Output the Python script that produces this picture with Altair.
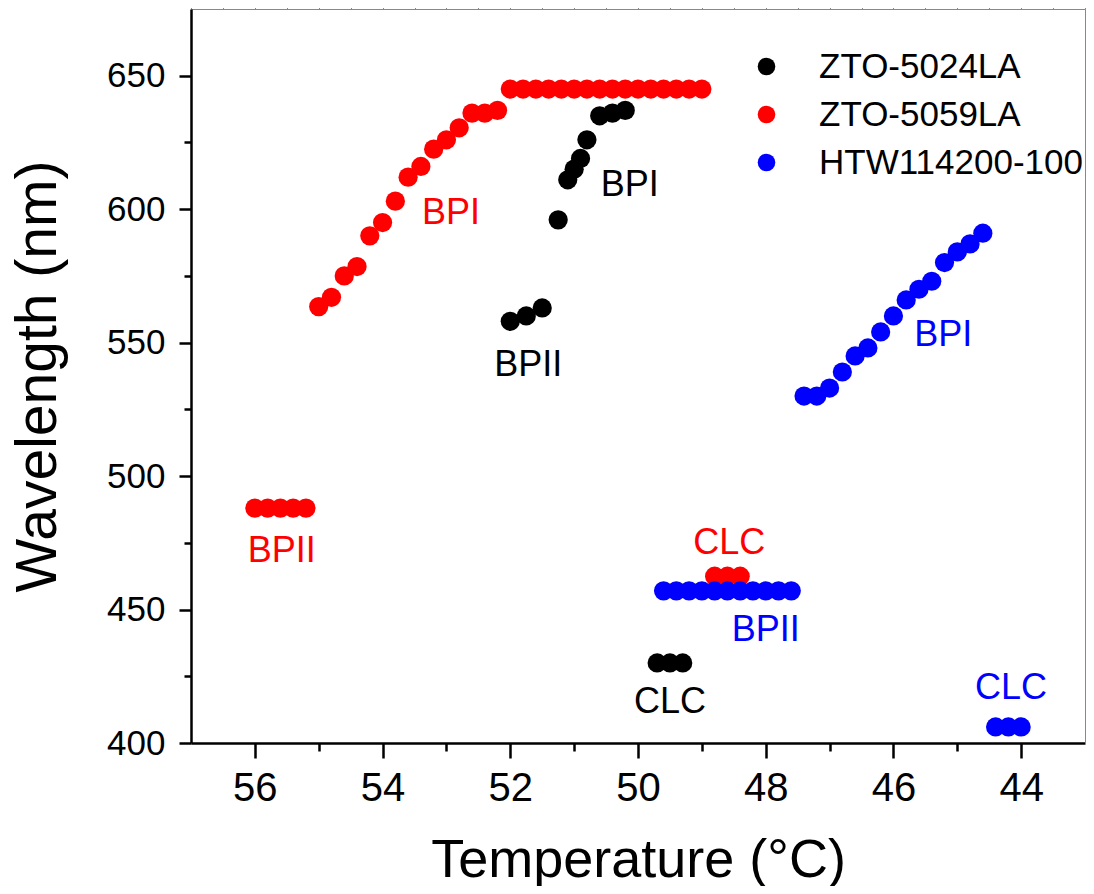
import altair as alt
import pandas as pd

FONT = "Liberation Sans, Arial, Helvetica, sans-serif"

series_names = ["ZTO-5024LA", "ZTO-5059LA", "HTW114200-100"]
series_colors = ["#000000", "#ff0000", "#0000ff"]

# ZTO-5024LA (black)
black_temp = [52.0, 51.75, 51.5, 51.25, 51.1, 51.0, 50.9, 50.8, 50.6, 50.4, 50.2, 49.7, 49.5, 49.3]
black_wl = [558, 560, 563, 596, 611, 615, 619, 626, 635, 636, 637, 430, 430, 430]

# ZTO-5059LA (red)
red_temp = [56.0, 55.8, 55.6, 55.4, 55.2,
            55.0, 54.8, 54.6, 54.4, 54.2, 54.0, 53.8, 53.6, 53.4, 53.2, 53.0, 52.8, 52.6, 52.4, 52.2,
            52.0, 51.8, 51.6, 51.4, 51.2, 51.0, 50.8, 50.6, 50.4, 50.2, 50.0, 49.8, 49.6, 49.4, 49.2, 49.0,
            48.8, 48.6, 48.4]
red_wl = [488, 488, 488, 488, 488,
          563.5, 567, 575, 578.5, 590, 595, 603, 612, 616, 622.5, 626, 630.5, 636, 636, 637,
          645, 645, 645, 645, 645, 645, 645, 645, 645, 645, 645, 645, 645, 645, 645, 645,
          462.5, 462.5, 462.5]

# HTW114200-100 (blue)
blue_temp = [47.4, 47.2, 47.0, 46.8, 46.6, 46.4, 46.2, 46.0, 45.8, 45.6, 45.4, 45.2, 45.0, 44.8, 44.6,
             49.6, 49.4, 49.2, 49.0, 48.8, 48.6, 48.4, 48.2, 48.0, 47.8, 47.6,
             44.4, 44.2, 44.0]
blue_wl = [530, 530, 533, 539, 545, 548, 554, 560, 566, 570, 573, 580, 584, 587, 591,
           457, 457, 457, 457, 457, 457, 457, 457, 457, 457, 457,
           406, 406, 406]

# phase annotations
label_text = ["BPII", "BPI", "CLC", "BPII", "BPI", "CLC", "BPII", "BPI", "CLC"]
label_temp = [51.72, 50.13, 49.5, 55.58, 52.93, 48.57, 48.0, 45.22, 44.16]
label_wl = [541.8, 609.1, 415.3, 472.1, 598.7, 475.0, 442.3, 552.7, 420.5]
label_color = ["#000000", "#000000", "#000000", "#ff0000", "#ff0000", "#ff0000",
               "#0000ff", "#0000ff", "#0000ff"]

x_major = [44, 46, 48, 50, 52, 54, 56]
x_minor = [45, 47, 49, 51, 53, 55]
y_major = [400, 450, 500, 550, 600, 650]
y_minor = [425, 475, 525, 575, 625]

rows = []
for name, temps, wls in [(series_names[0], black_temp, black_wl),
                         (series_names[1], red_temp, red_wl),
                         (series_names[2], blue_temp, blue_wl)]:
    for t, w in zip(temps, wls):
        rows.append({"series": name, "temp": t, "wl": w})
df = pd.DataFrame(rows)

labels_df = pd.DataFrame({"text": label_text, "temp": label_temp, "wl": label_wl, "color": label_color})

x_scale = alt.Scale(domain=[43, 57], reverse=True, nice=False, zero=False)
y_scale = alt.Scale(domain=[400, 675], nice=False, zero=False)

x_axis_major = alt.Axis(values=x_major, format="d", orient="bottom", grid=False,
                        tickSize=15, tickWidth=2.5, tickColor="black",
                        domainWidth=2.5, domainColor="black",
                        labelFont=FONT, labelFontSize=40, labelColor="black", labelPadding=10,
                        labelFlush=False,
                        title="Temperature (°C)", titleFont=FONT, titleFontSize=54,
                        titleFontWeight="normal", titleColor="black",
                        titleBaseline="alphabetic", titleY=133)
y_axis_major = alt.Axis(values=y_major, format="d", orient="left", grid=False,
                        tickSize=12, tickWidth=2.5, tickColor="black",
                        domainWidth=2.5, domainColor="black",
                        labelFont=FONT, labelFontSize=35, labelColor="black", labelPadding=14,
                        labelFlush=False,
                        title="Wavelength (nm)", titleFont=FONT, titleFontSize=57,
                        titleFontWeight="normal", titleColor="black",
                        titleBaseline="alphabetic", titleAngle=270, titleAlign="center",
                        titleX=-136, titleY=367)

x_axis_minor = alt.Axis(values=x_minor, orient="bottom", grid=False, labels=False, title=None,
                        tickSize=8, tickWidth=2.5, tickColor="black", domain=False)
y_axis_minor = alt.Axis(values=y_minor, orient="left", grid=False, labels=False, title=None,
                        tickSize=7, tickWidth=2.5, tickColor="black", domain=False)

points = alt.Chart(df).mark_circle(size=370, opacity=1).encode(
    x=alt.X("temp:Q", scale=x_scale, axis=x_axis_major),
    y=alt.Y("wl:Q", scale=y_scale, axis=y_axis_major),
    color=alt.Color("series:N",
                    scale=alt.Scale(domain=series_names, range=series_colors),
                    sort=series_names,
                    legend=alt.Legend(orient="none", legendX=558, legendY=40, title=None,
                                      labelFont=FONT, labelFontSize=35, labelColor="black",
                                      labelLimit=0,
                                      symbolType="circle", symbolSize=310, symbolStrokeWidth=0,
                                      labelOffset=35, rowPadding=12, padding=0)),
)

minor = alt.Chart(df).mark_point(opacity=0).encode(
    x=alt.X("temp:Q", scale=x_scale, axis=x_axis_minor),
    y=alt.Y("wl:Q", scale=y_scale, axis=y_axis_minor),
)

texts = alt.Chart(labels_df).mark_text(font=FONT, fontSize=36, align="center", baseline="middle").encode(
    x=alt.X("temp:Q", scale=x_scale),
    y=alt.Y("wl:Q", scale=y_scale),
    text="text:N",
    color=alt.Color("color:N", scale=None),
)

chart = alt.layer(points, texts, minor).resolve_axis(
    x="independent", y="independent"
).resolve_scale(color="independent").properties(
    width=894, height=734,
    autosize=alt.AutoSizeParams(type="none"),
    padding={"left": 183, "top": 1, "right": 1, "bottom": 143},
).configure_view(stroke="black", strokeWidth=2).configure(background="white")

chart.save("out.html", embed_options={"renderer": "svg", "actions": False})
